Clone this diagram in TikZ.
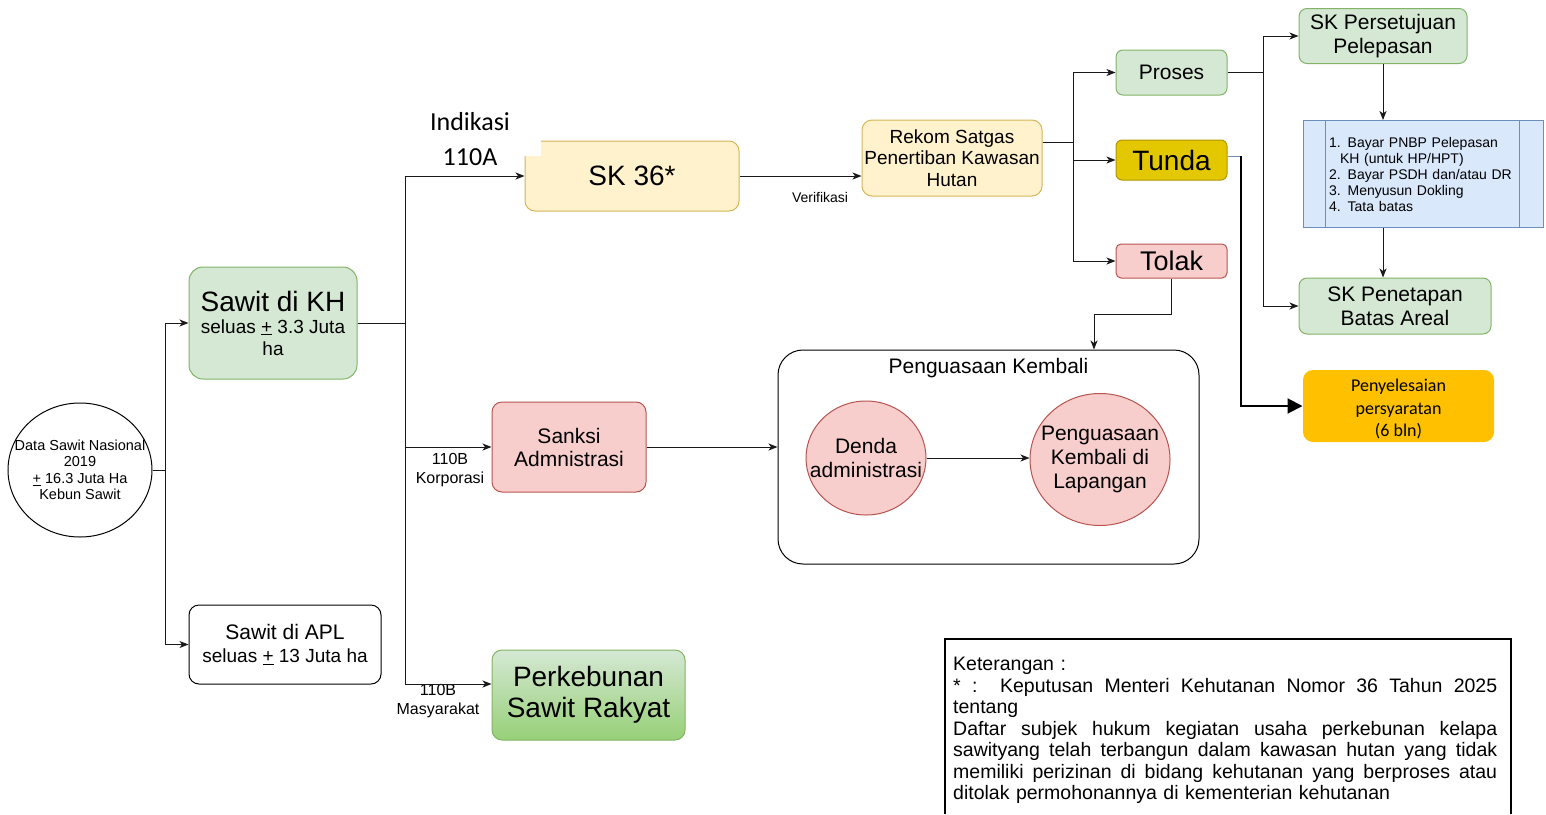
\documentclass[tikz,border=0pt]{standalone}
\usepackage{fontspec}
\setmainfont{Liberation Sans}
\newfontfamily\calibrifont{Carlito}
\usetikzlibrary{arrows.meta,positioning,shapes.geometric}

\definecolor{hijauisi}{HTML}{D5E8D4}
\definecolor{hijaugaris}{HTML}{82B366}
\definecolor{hijautua}{HTML}{97D077}
\definecolor{kuningisi}{HTML}{FFF2CC}
\definecolor{kuninggaris}{HTML}{D6B656}
\definecolor{merahisi}{HTML}{F8CECC}
\definecolor{merahgaris}{HTML}{B85450}
\definecolor{biruisi}{HTML}{DAE8FC}
\definecolor{birugaris}{HTML}{6C8EBF}
\definecolor{tundaisi}{HTML}{E3C800}
\definecolor{tundagaris}{HTML}{B09500}
\definecolor{oranye}{HTML}{FFC000}

\newcommand{\ukuran}[2]{\fontsize{#1}{#2}\selectfont}
\newcommand{\rata}[1]{\makebox[544pt][s]{\spaceskip=.28em plus 1fil\relax #1}}

\tikzset{
  kotak/.style={draw, line width=1pt, rounded corners=10pt, inner sep=0pt, align=center},
  hijau/.style={kotak, fill=hijauisi, draw=hijaugaris},
  kuning/.style={kotak, fill=kuningisi, draw=kuninggaris},
  merah/.style={kotak, fill=merahisi, draw=merahgaris},
  bulat/.style={ellipse, draw, line width=1pt, inner sep=0pt},
  teksbulat/.style={inner sep=0pt, align=center},
  panah/.style={draw=black!90, line width=1pt, -{Stealth[length=9pt,width=7pt,inset=2.5pt]}},
  ket/.style={inner sep=0pt, align=center, font=\ukuran{16}{19}},
}

\begin{document}
\begin{tikzpicture}[x=1pt,y=-1pt]
  \useasboundingbox (0,0) rectangle (1546,814);

  % data awal
  \node[bulat, minimum width=144pt, minimum height=134pt,
        label={[teksbulat, font=\ukuran{14.5}{16.5}]center:{Data Sawit Nasional\\2019\\\underline{+} 16.3 Juta Ha\\Kebun Sawit}}] (data) at (80,470) {};

  \node[hijau, minimum width=168pt, minimum height=112pt, rounded corners=14pt, font=\ukuran{19}{22}] (kh) at (273,323)
    {{\ukuran{28}{30}Sawit di KH}\\seluas \underline{+} 3.3 Juta\\ha};
  \node[kotak, fill=white, minimum width=192pt, minimum height=79pt, font=\ukuran{19}{23}] (apl) at (285,644.5)
    {{\ukuran{21}{23}Sawit di APL}\\seluas \underline{+} 13 Juta ha};

  % cabang 110A / 110B
  \node[kuning, minimum width=214pt, minimum height=70pt, font=\ukuran{28}{30}] (sk36) at (632,176) {SK 36*};
  \fill[white] (399,100) rectangle (541,156);
  \node[ket, font=\calibrifont\ukuran{26}{35}] (l110a) at (470,139.5) {Indikasi\\110A};

  \node[merah, minimum width=154pt, minimum height=90pt, font=\ukuran{21}{23}] (sanksi) at (569,447) {Sanksi\\Admnistrasi};
  \node[kotak, draw=hijaugaris, top color=hijauisi, bottom color=hijautua, minimum width=193pt, minimum height=90pt,
        font=\ukuran{28}{31}] (rakyat) at (588.5,695) {Perkebunan\\Sawit Rakyat};
  \node[ket] (lkorp) at (450,470) {110B\\Korporasi};
  \node[ket] (lmas) at (438,701) {110B\\Masyarakat};

  % verifikasi
  \node[kuning, minimum width=180pt, minimum height=76pt, font=\ukuran{19}{21.5}] (rekom) at (952,158)
    {Rekom Satgas\\Penertiban Kawasan\\Hutan};
  \node[ket, font=\ukuran{14}{16}] (lverif) at (820,197) {Verifikasi};

  \node[hijau, minimum width=111pt, minimum height=45pt, rounded corners=7pt, font=\ukuran{21}{24}] (proses) at (1171.5,72.5) {Proses};
  \node[kotak, fill=tundaisi, draw=tundagaris, minimum width=111pt, minimum height=40pt, rounded corners=6pt, font=\ukuran{28}{30}] (tunda) at (1171.5,160) {Tunda};
  \node[merah, minimum width=111pt, minimum height=34pt, rounded corners=5pt, font=\ukuran{27}{30}] (tolak) at (1171.5,261) {Tolak};

  % pelepasan
  \node[hijau, minimum width=168pt, minimum height=55pt, rounded corners=8pt, font=\ukuran{21}{24}] (persetujuan) at (1383,36)
    {SK Persetujuan\\Pelepasan};
  \node[kotak, rounded corners=0pt, fill=biruisi, draw=birugaris, minimum width=240pt, minimum height=107pt,
        text width=188pt, align=left, font=\ukuran{14}{16}] (syarat) at (1423,174)
    {1. Bayar PNBP Pelepasan\\\hspace*{11pt}KH (untuk HP/HPT)\\2. Bayar PSDH dan/atau DR\\3. Menyusun Dokling\\4. Tata batas};
  \draw[draw=birugaris] ([xshift=23pt]syarat.north west) -- ([xshift=23pt]syarat.south west);
  \draw[draw=birugaris] ([xshift=-24pt]syarat.north east) -- ([xshift=-24pt]syarat.south east);
  \node[hijau, minimum width=192pt, minimum height=56pt, rounded corners=8pt, font=\ukuran{21}{24}] (penetapan) at (1395,306)
    {SK Penetapan\\Batas Areal};

  \node[kotak, draw=none, fill=oranye, minimum width=191pt, minimum height=72pt,
        label={[teksbulat, yshift=-3pt, font=\calibrifont\ukuran{18}{22.5}]center:{Penyelesaian\\persyaratan\\(6 bln)}}] (selesai) at (1398.5,406) {};

  % penguasaan kembali
  \node[kotak, fill=white, rounded corners=25pt, minimum width=421pt, minimum height=214pt] (pk) at (988.5,457) {};
  \node[inner sep=0pt, font=\ukuran{21}{24}, below=9pt of pk.north] (pkjudul) {Penguasaan Kembali};
  \node[bulat, fill=merahisi, draw=merahgaris, minimum width=120pt, minimum height=114pt,
        label={[teksbulat, font=\ukuran{21}{24}]center:{Denda\\administrasi}}] (denda) at (866,458) {};
  \node[bulat, fill=merahisi, draw=merahgaris, minimum width=140pt, minimum height=132pt,
        label={[teksbulat, font=\ukuran{21}{24}]center:{Penguasaan\\Kembali di\\Lapangan}}] (pkl) at (1100,459.5) {};

  % konektor
  \draw[panah] (data.east) -- ++(13,0) |- (kh.west);
  \draw[panah] (data.east) -- ++(13,0) |- (apl.west);
  \draw[panah] (kh.east) -- ++(48,0) |- (sk36.west);
  \draw[panah] (kh.east) -- ++(48,0) |- (sanksi.west);
  \draw[panah] (kh.east) -- ++(48,0) |- ([yshift=11pt]rakyat.west);
  \draw[panah] (sk36.east) -- (sk36.east -| rekom.west);
  \draw[panah] ([yshift=16pt]rekom.east) -- ++(31,0) |- (proses.west);
  \draw[panah] ([yshift=16pt]rekom.east) -- ++(31,0) |- (tunda.west);
  \draw[panah] ([yshift=16pt]rekom.east) -- ++(31,0) |- (tolak.west);
  \draw[panah] (proses.east) -- ++(36,0) |- (persetujuan.west);
  \draw[panah] (proses.east) -- ++(36,0) |- (penetapan.west);
  \draw[panah] (persetujuan.south) -- (persetujuan.south |- syarat.north);
  \draw[panah] (persetujuan.south |- syarat.south) -- (persetujuan.south |- penetapan.north);
  \draw[draw=birugaris] ([yshift=4pt]tunda.east) -- ++(13,0);
  \draw[line width=2pt, -{Triangle[length=15pt,width=15pt]}] ([yshift=4pt]tunda.east) ++(13,0) |- (selesai.west);
  \draw[panah] (tolak.south) -- ++(0,36) -| ([xshift=105.5pt]pk.north);
  \draw[panah] (sanksi.east) -- (sanksi.east -| pk.west);
  \draw[panah] (denda.east) -- (denda.east -| pkl.west);

  % keterangan
  \draw[line width=2pt] (945,814) -- (945,639) -- (1511,639) -- (1511,814);
  \node[anchor=north west, inner sep=0pt, text width=544pt, align=left, font=\ukuran{19.5}{21.5}] (legenda) at (953,657)
    {Keterangan :\\
     \rata{* :\ \ Keputusan Menteri Kehutanan Nomor 36 Tahun 2025}\\
     tentang\\
     \rata{Daftar subjek hukum kegiatan usaha perkebunan kelapa}\\
     \rata{sawityang telah terbangun dalam kawasan hutan yang tidak}\\
     \rata{memiliki perizinan di bidang kehutanan yang berproses atau}\\
     ditolak permohonannya di kementerian kehutanan};
\end{tikzpicture}
\end{document}
